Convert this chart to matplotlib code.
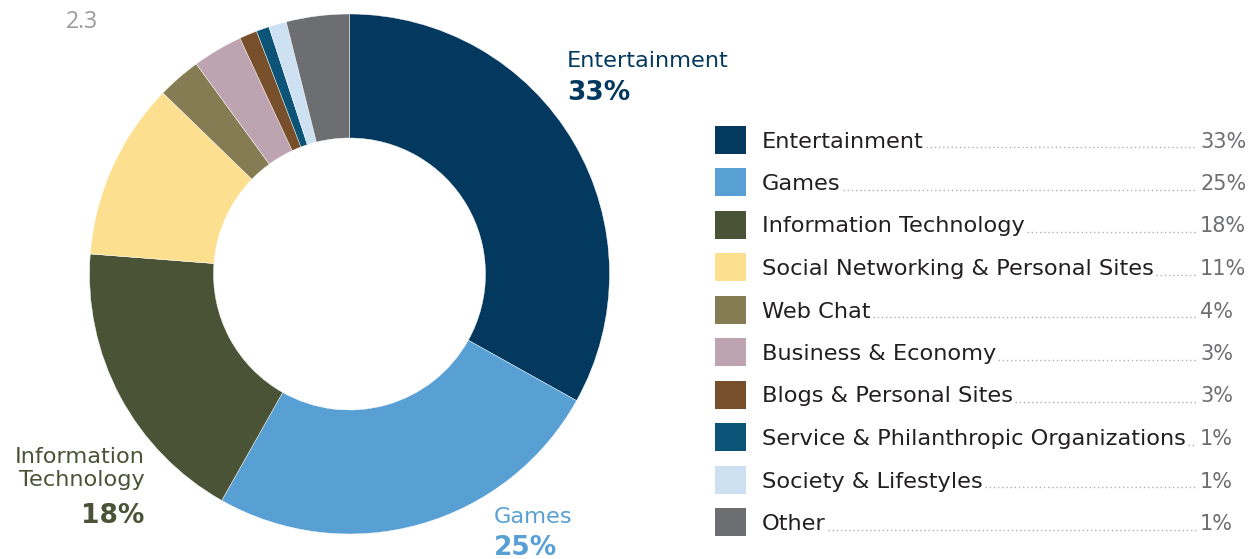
import matplotlib.pyplot as plt

W, H = 1254, 559

categories = [
    "Entertainment",
    "Games",
    "Information Technology",
    "Social Networking & Personal Sites",
    "Web Chat",
    "Business & Economy",
    "Blogs & Personal Sites",
    "Service & Philanthropic Organizations",
    "Society & Lifestyles",
    "Other",
]
# slice sizes (percent of sites)
shares = [33, 25, 18, 11, 2.7, 3.1, 1.1, 0.8, 1.1, 3.9]
# percentages printed in the legend
legend_pct = ["33%", "25%", "18%", "11%", "4%", "3%", "3%", "1%", "1%", "1%"]
colors = [
    "#03385f", "#58a0d4", "#4a5335", "#fde08f", "#867c53",
    "#bea4b0", "#774f2a", "#0c5378", "#cde1f2", "#6d6e72",
]

def Y(y):
    # pixel row counted from the top -> data y
    return H - y

fig = plt.figure(figsize=(W / 100, H / 100), dpi=100)
ax = fig.add_axes([0, 0, 1, 1])

ax.pie(shares, colors=colors, startangle=90, counterclock=False,
       radius=260, center=(349.5, Y(274)), frame=True,
       wedgeprops=dict(width=124, edgecolor="white", linewidth=0.3))

ax.set_xlim(0, W)
ax.set_ylim(0, H)
ax.set_aspect("equal")
ax.axis("off")

# stray figure number in the corner
ax.text(66, Y(22), "2.3", fontsize=16.5, color="#9a9a9a", family="Open Sans",
        ha="left", va="center")

# callouts around the ring
lab_fs, pct_fs = 16.2, 19
ax.text(567, Y(67), categories[0], fontsize=lab_fs, color=colors[0],
        ha="left", va="baseline")
ax.text(567, Y(100), f"{shares[0]:.0f}%", fontsize=pct_fs, color=colors[0],
        fontweight="bold", ha="left", va="baseline")

ax.text(494, Y(523), categories[1], fontsize=lab_fs, color=colors[1],
        ha="left", va="baseline")
ax.text(494, Y(555), f"{shares[1]:.0f}%", fontsize=pct_fs, color=colors[1],
        fontweight="bold", ha="left", va="baseline")

ax.text(145, Y(463), "Information", fontsize=lab_fs, color=colors[2],
        ha="right", va="baseline")
ax.text(145, Y(486), "Technology", fontsize=lab_fs, color=colors[2],
        ha="right", va="baseline")
ax.text(144, Y(523), f"{shares[2]:.0f}%", fontsize=pct_fs, color=colors[2],
        fontweight="bold", ha="right", va="baseline")

# legend with dotted leaders
row0, step = 139.5, 42.5
labels = []
for i, (name, c, p) in enumerate(zip(categories, colors, legend_pct)):
    yc = row0 + i * step
    ax.add_patch(plt.Rectangle((715, Y(yc + 14)), 31, 28, color=c, lw=0))
    t = ax.text(762, Y(yc + 8), name, fontsize=lab_fs, color="#231f20",
                ha="left", va="baseline")
    ax.text(1200, Y(yc + 8), p, fontsize=15, color="#6d6e72",
            ha="left", va="baseline")
    labels.append((t, yc))

fig.canvas.draw()
renderer = fig.canvas.get_renderer()
for t, yc in labels:
    x_end = t.get_window_extent(renderer).x1
    ax.plot([x_end + 2, 1196], [Y(yc + 7.5), Y(yc + 7.5)], color="#b0b0b0",
            lw=1.0, linestyle=(0, (1, 2)), solid_capstyle="butt")

fig.savefig("out.png", dpi=100)
